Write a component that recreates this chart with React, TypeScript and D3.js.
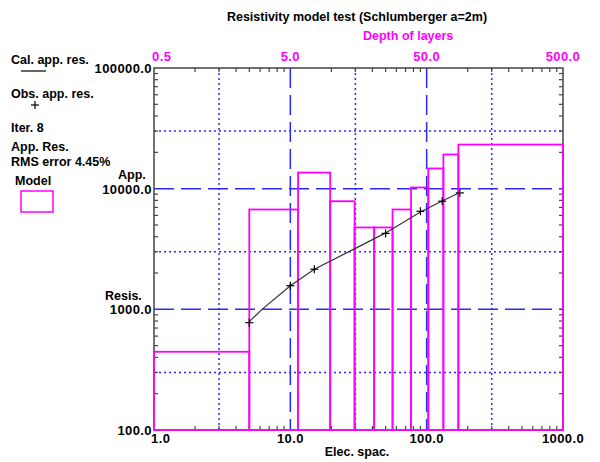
import * as d3 from 'd3';

// Observed apparent resistivity (electrode spacing, ohm-m)
const obsSpacing = [5, 10, 15, 50, 90, 130, 175];
const obsRes = [775, 1570, 2150, 4260, 6500, 7870, 9220];

// Calculated apparent resistivity curve
const calSpacing = [5, 6.2, 10, 15, 30, 50, 90, 130, 175];
const calRes = [790, 1000, 1570, 2150, 3200, 4300, 6400, 7900, 9300];

// Layer model: boundaries in depth, resistivity per layer
const layerDepths = [0.5, 2.5, 5.7, 9.8, 14.8, 20.6, 28.1, 38.4, 51.4, 66.3, 85.4, 500];
const layerRes = [445, 6720, 13600, 7870, 4770, 4770, 6720, 10230, 14700, 19200, 23200];

const xTickLabels = ['1.0', '10.0', '100.0', '1000.0'];
const xTickValues = [1, 10, 100, 1000];
const depthTickLabels = ['0.5', '5.0', '50.0', '500.0'];
const depthTickValues = [0.5, 5, 50, 500];
const yTickLabels = ['100.0', '1000.0', '10000.0', '100000.0'];
const yTickValues = [100, 1000, 10000, 100000];

const legendLines = ['Iter. 8', 'App. Res.', 'RMS error 4.45%'];

const W = 600;
const H = 462;
const plot = { left: 154, right: 563, top: 68, bottom: 430 };

const FONT = '"Liberation Sans", Arial, sans-serif';
const MAGENTA = '#ff00ff';
const BLUE = '#2a2aff';
const AXIS = '#444';

export default function App() {
  const x = d3.scaleLog().domain([1, 1000]).range([plot.left, plot.right]);
  const depth = d3.scaleLog().domain([0.5, 500]).range([plot.left, plot.right]);
  const y = d3.scaleLog().domain([100, 100000]).range([plot.bottom, plot.top]);

  const minorX: number[] = [];
  [1, 10, 100].forEach((d) => {
    for (let k = 2; k <= 9; k++) minorX.push(d * k);
  });
  const minorY: number[] = [];
  [100, 1000, 10000].forEach((d) => {
    for (let k = 2; k <= 9; k++) minorY.push(d * k);
  });

  const calLine = d3
    .line<number>()
    .x((_, i) => x(calSpacing[i]))
    .y((d) => y(d));

  const tick = 4;

  return (
    <div style={{ position: 'fixed', left: 0, top: 0 }}>
      <svg width={W} height={H} style={{ display: 'block', background: '#fff' }} fontFamily={FONT} fontWeight="bold">
        {/* title */}
        <text x={357} y={21} fontSize={12.5} textAnchor="middle" fill="#000">
          Resistivity model test (Schlumberger a=2m)
        </text>
        <text x={363} y={40} fontSize={12.5} fill={MAGENTA}>
          Depth of layers
        </text>

        {/* grid: dotted at 3x, dashed at decades */}
        {[3, 30, 300].map((v) => (
          <line key={'gx' + v} x1={x(v)} x2={x(v)} y1={plot.top} y2={plot.bottom} stroke={BLUE} strokeWidth={1.5} strokeDasharray="2,3" />
        ))}
        {[300, 3000, 30000].map((v) => (
          <line key={'gy' + v} x1={plot.left} x2={plot.right} y1={y(v)} y2={y(v)} stroke={BLUE} strokeWidth={1.5} strokeDasharray="2,3" />
        ))}
        {[10, 100].map((v) => (
          <line key={'dx' + v} x1={x(v)} x2={x(v)} y1={plot.top} y2={plot.bottom} stroke={BLUE} strokeWidth={1.5} strokeDasharray="20,7" />
        ))}
        {[1000, 10000].map((v) => (
          <line key={'dy' + v} x1={plot.left} x2={plot.right} y1={y(v)} y2={y(v)} stroke={BLUE} strokeWidth={1.5} strokeDasharray="20,7" />
        ))}

        {/* frame */}
        <rect x={plot.left} y={plot.top} width={plot.right - plot.left} height={plot.bottom - plot.top} fill="none" stroke={AXIS} strokeWidth={1.5} />
        {minorX.map((v) => (
          <g key={'tx' + v} stroke={AXIS} strokeWidth={1.2}>
            <line x1={x(v)} x2={x(v)} y1={plot.top} y2={plot.top + tick} />
            <line x1={x(v)} x2={x(v)} y1={plot.bottom} y2={plot.bottom - tick} />
          </g>
        ))}
        {minorY.map((v) => (
          <g key={'ty' + v} stroke={AXIS} strokeWidth={1.2}>
            <line x1={plot.left} x2={plot.left + tick} y1={y(v)} y2={y(v)} />
            <line x1={plot.right} x2={plot.right - tick} y1={y(v)} y2={y(v)} />
          </g>
        ))}

        {/* model layers */}
        {layerRes.map((r, i) => (
          <rect
            key={'layer' + i}
            x={depth(layerDepths[i])}
            y={y(r)}
            width={depth(layerDepths[i + 1]) - depth(layerDepths[i])}
            height={plot.bottom - y(r)}
            fill="none"
            stroke={MAGENTA}
            strokeWidth={1.8}
          />
        ))}

        {/* calculated curve */}
        <path d={calLine(calRes) || ''} fill="none" stroke="#333" strokeWidth={1.2} />

        {/* observed points */}
        {obsRes.map((r, i) => (
          <g key={'obs' + i} stroke="#000" strokeWidth={1.2}>
            <line x1={x(obsSpacing[i]) - 4} x2={x(obsSpacing[i]) + 4} y1={y(r)} y2={y(r)} />
            <line x1={x(obsSpacing[i])} x2={x(obsSpacing[i])} y1={y(r) - 4} y2={y(r) + 4} />
          </g>
        ))}

        {/* top depth labels */}
        {depthTickValues.map((v, i) => (
          <text key={'dl' + v} x={i === 0 ? 152 : depth(v)} y={61} fontSize={13} letterSpacing={0.4} fill={MAGENTA} textAnchor={i === 0 ? 'start' : 'middle'}>
            {depthTickLabels[i]}
          </text>
        ))}

        {/* bottom labels */}
        {xTickValues.map((v, i) => (
          <text key={'xl' + v} x={i === 0 ? 151 : x(v)} y={443} fontSize={13} letterSpacing={0.4} fill="#000" textAnchor={i === 0 ? 'start' : 'middle'}>
            {xTickLabels[i]}
          </text>
        ))}
        <text x={357} y={456} fontSize={12.5} textAnchor="middle" fill="#000">
          Elec. spac.
        </text>

        {/* left labels */}
        {yTickValues.map((v, i) => (
          <text key={'yl' + v} x={152} y={y(v) + 5} fontSize={13} letterSpacing={0.4} fill="#000" textAnchor="end">
            {yTickLabels[i]}
          </text>
        ))}
        <text x={118} y={179} fontSize={12.5} fill="#000">
          App.
        </text>
        <text x={105} y={300} fontSize={12.5} fill="#000">
          Resis.
        </text>

        {/* legend */}
        <text x={11} y={64} fontSize={12.5} fill="#000">
          Cal. app. res.
        </text>
        <line x1={21} x2={46} y1={71} y2={71} stroke="#000" strokeWidth={1.2} />
        <text x={11} y={98} fontSize={12.5} fill="#000">
          Obs. app. res.
        </text>
        <line x1={31} x2={39} y1={105} y2={105} stroke="#000" strokeWidth={1.2} />
        <line x1={35} x2={35} y1={101} y2={109} stroke="#000" strokeWidth={1.2} />
        {legendLines.map((t, i) => (
          <text key={t} x={11} y={[132, 151, 166][i]} fontSize={12.5} fill="#000">
            {t}
          </text>
        ))}
        <text x={15} y={185} fontSize={12.5} fill="#000">
          Model
        </text>
        <rect x={21} y={191} width={32} height={21} fill="none" stroke={MAGENTA} strokeWidth={1.5} />
      </svg>
    </div>
  );
}
